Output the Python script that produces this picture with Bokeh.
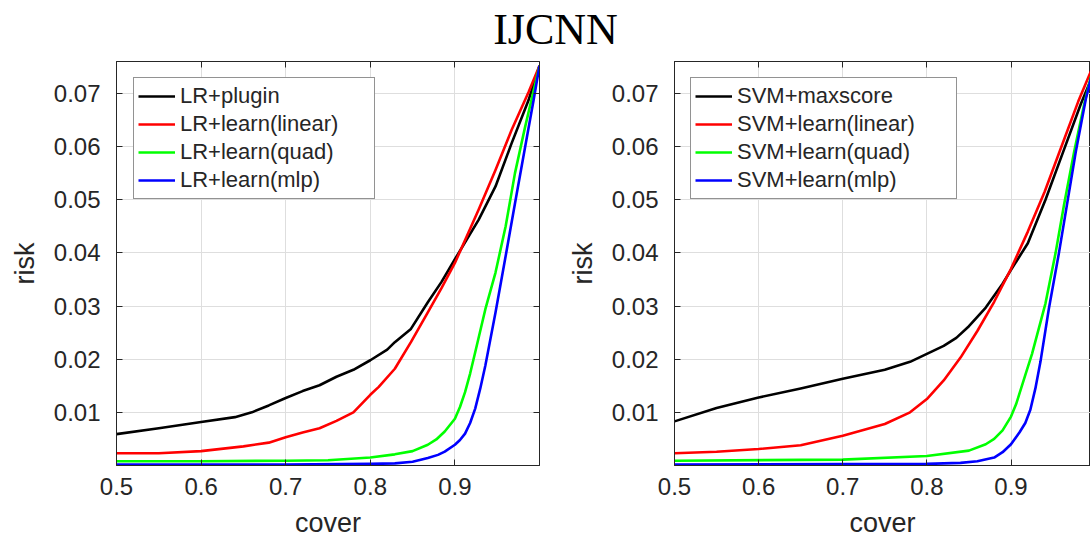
from bokeh.plotting import figure
from bokeh.layouts import column, row
from bokeh.models import (Label, Legend, LegendItem, LinearAxis, FixedTicker,
                          Range1d, PrintfTickFormatter, CustomJSTickFormatter)
from bokeh.embed import file_html
from bokeh.resources import INLINE

# ---------------- data ----------------
TITLE = "IJCNN"
X_TICKS = [0.5, 0.6, 0.7, 0.8, 0.9]
Y_TICKS = [0.01, 0.02, 0.03, 0.04, 0.05, 0.06, 0.07]
X_LABEL = "cover"
Y_LABEL = "risk"

left_labels = ["LR+plugin", "LR+learn(linear)", "LR+learn(quad)", "LR+learn(mlp)"]
right_labels = ["SVM+maxscore", "SVM+learn(linear)", "SVM+learn(quad)", "SVM+learn(mlp)"]
colors = ["#000000", "#ff0000", "#00ff00", "#0000ff"]

# left panel (LR)
lr_plugin_cover = [0.50, 0.55, 0.60, 0.64, 0.66, 0.68, 0.70, 0.72, 0.74, 0.76, 0.78, 0.80, 0.82, 0.829, 0.848, 0.868, 0.884, 0.90, 0.928, 0.948, 0.967, 0.987, 1.00]
lr_plugin_risk = [0.0059, 0.0070, 0.0082, 0.0091, 0.0100, 0.0113, 0.0127, 0.0140, 0.0151, 0.0167, 0.0180, 0.0198, 0.0218, 0.0232, 0.0257, 0.0307, 0.0345, 0.0388, 0.0462, 0.0525, 0.0606, 0.0687, 0.0752]

lr_linear_cover = [0.50, 0.55, 0.60, 0.65, 0.68, 0.70, 0.72, 0.74, 0.76, 0.78, 0.80, 0.81, 0.829, 0.848, 0.868, 0.884, 0.90, 0.928, 0.948, 0.967, 0.987, 1.00]
lr_linear_risk = [0.0023, 0.0023, 0.0027, 0.0036, 0.0043, 0.0053, 0.0062, 0.0070, 0.0084, 0.0100, 0.0133, 0.0148, 0.0182, 0.0232, 0.0288, 0.0333, 0.0381, 0.0481, 0.0556, 0.0631, 0.0702, 0.0752]

lr_quad_cover = [0.50, 0.60, 0.70, 0.75, 0.80, 0.829, 0.85, 0.868, 0.878, 0.888, 0.90, 0.906, 0.912, 0.918, 0.924, 0.936, 0.948, 0.96, 0.971, 0.983, 1.00]
lr_quad_risk = [0.0008, 0.0008, 0.0009, 0.0010, 0.0015, 0.0021, 0.0027, 0.0039, 0.0049, 0.0064, 0.0088, 0.0110, 0.0138, 0.0173, 0.0213, 0.0294, 0.0363, 0.0450, 0.0550, 0.0637, 0.0752]

lr_mlp_cover = [0.50, 0.70, 0.80, 0.829, 0.85, 0.868, 0.88, 0.888, 0.90, 0.906, 0.912, 0.918, 0.924, 0.93, 0.936, 0.948, 0.96, 0.971, 0.983, 0.993, 1.00]
lr_mlp_risk = [0.0002, 0.0002, 0.0003, 0.0004, 0.0007, 0.0014, 0.0020, 0.0026, 0.0039, 0.0048, 0.0060, 0.0080, 0.0107, 0.0145, 0.0188, 0.0288, 0.0394, 0.0493, 0.0599, 0.0687, 0.0752]

# right panel (SVM)
svm_max_cover = [0.50, 0.55, 0.60, 0.65, 0.70, 0.75, 0.78, 0.80, 0.82, 0.835, 0.85, 0.87, 0.89, 0.90, 0.92, 0.941, 0.962, 0.983, 0.9945, 1.00]
svm_max_risk = [0.0083, 0.0108, 0.0128, 0.0145, 0.0163, 0.0180, 0.0195, 0.0210, 0.0225, 0.0240, 0.0262, 0.0297, 0.0342, 0.0368, 0.0418, 0.0500, 0.0590, 0.0680, 0.0724, 0.0752]

svm_linear_cover = [0.50, 0.55, 0.60, 0.65, 0.70, 0.75, 0.78, 0.80, 0.82, 0.84, 0.86, 0.88, 0.90, 0.92, 0.94, 0.96, 0.98, 0.9945, 1.00]
svm_linear_risk = [0.0023, 0.0026, 0.0031, 0.0038, 0.0056, 0.0078, 0.0100, 0.0125, 0.0160, 0.0203, 0.0253, 0.0308, 0.0370, 0.0440, 0.0515, 0.0600, 0.0685, 0.0740, 0.0758]

svm_quad_cover = [0.50, 0.70, 0.80, 0.85, 0.87, 0.88, 0.89, 0.90, 0.906, 0.912, 0.918, 0.925, 0.941, 0.953, 0.963, 0.975, 0.987, 0.9945, 1.00]
svm_quad_risk = [0.0009, 0.0011, 0.0018, 0.0028, 0.0040, 0.0050, 0.0066, 0.0092, 0.0115, 0.0145, 0.0175, 0.0210, 0.0305, 0.0400, 0.0490, 0.0590, 0.0680, 0.0728, 0.0755]

svm_mlp_cover = [0.50, 0.80, 0.84, 0.86, 0.88, 0.89, 0.90, 0.91, 0.917, 0.923, 0.929, 0.935, 0.945, 0.957, 0.967, 0.977, 0.989, 0.9945, 1.00]
svm_mlp_risk = [0.0002, 0.0003, 0.0005, 0.0008, 0.0015, 0.0025, 0.0040, 0.0062, 0.0080, 0.0105, 0.0145, 0.0195, 0.0295, 0.0400, 0.0495, 0.0590, 0.0690, 0.0725, 0.0755]

left_series = [(lr_plugin_cover, lr_plugin_risk), (lr_linear_cover, lr_linear_risk),
               (lr_quad_cover, lr_quad_risk), (lr_mlp_cover, lr_mlp_risk)]
right_series = [(svm_max_cover, svm_max_risk), (svm_linear_cover, svm_linear_risk),
                (svm_quad_cover, svm_quad_risk), (svm_mlp_cover, svm_mlp_risk)]

# ---------------- style ----------------
FONT = "Liberation Sans"
DARK = "#262626"
GRID = "#dedede"


def make_panel(series, labels, x_end, width, border_left, border_right, legend_loc,
               label_width, add_right_axis):
    p = figure(width=width, height=485, x_range=Range1d(0.5, x_end),
               y_range=Range1d(0.0, 0.076), output_backend="svg",
               toolbar_location=None, min_border_left=border_left,
               min_border_right=border_right, min_border_top=6,
               min_border_bottom=73)
    p.outline_line_color = DARK
    p.outline_line_width = 1
    p.background_fill_color = "white"
    p.border_fill_color = "white"

    p.xaxis.ticker = FixedTicker(ticks=X_TICKS, minor_ticks=[])
    p.yaxis.ticker = FixedTicker(ticks=Y_TICKS, minor_ticks=[])
    p.xaxis.formatter = PrintfTickFormatter(format="%.1f")
    p.yaxis.formatter = PrintfTickFormatter(format="%.2f")
    p.xaxis.axis_label = X_LABEL
    p.yaxis.axis_label = Y_LABEL
    for ax in list(p.xaxis) + list(p.yaxis):
        ax.axis_line_color = DARK
        ax.major_tick_line_color = DARK
        ax.major_tick_in = 6
        ax.major_tick_out = 0
        ax.minor_tick_line_color = None
        ax.major_label_text_font = FONT
        ax.major_label_text_font_size = "24px"
        ax.major_label_text_color = DARK
        ax.axis_label_text_font = FONT
        ax.axis_label_text_font_size = "27px"
        ax.axis_label_text_font_style = "normal"
        ax.axis_label_text_color = DARK
    p.xaxis.major_label_standoff = 12
    p.yaxis.major_label_standoff = 16
    p.xaxis.axis_label_standoff = 10
    p.yaxis.axis_label_standoff = 11

    p.grid.grid_line_color = GRID
    p.grid.grid_line_width = 1

    top = LinearAxis(ticker=FixedTicker(ticks=X_TICKS, minor_ticks=[]),
                     formatter=CustomJSTickFormatter(code="return ''"),
                     major_tick_in=6, major_tick_out=0, major_label_standoff=0,
                     major_label_text_font_size="0px",
                     axis_line_color=DARK, major_tick_line_color=DARK,
                     minor_tick_line_color=None)
    p.add_layout(top, "above")
    if add_right_axis:
        rgt = LinearAxis(ticker=FixedTicker(ticks=Y_TICKS, minor_ticks=[]),
                         formatter=CustomJSTickFormatter(code="return ''"),
                         major_tick_in=6, major_tick_out=0, major_label_standoff=0,
                         major_label_text_font_size="0px",
                         axis_line_color=DARK, major_tick_line_color=DARK,
                         minor_tick_line_color=None)
        p.add_layout(rgt, "right")

    items = []
    for (cx, ry), lab, col in zip(series, labels, colors):
        r = p.line(cx, ry, line_color=col, line_width=2.6, line_join="round")
        items.append(LegendItem(label=lab, renderers=[r]))

    leg = Legend(items=items, location=legend_loc, padding=4, spacing=0, margin=0,
                 glyph_width=37, glyph_height=28, label_height=28,
                 label_width=label_width, label_standoff=5,
                 border_line_color=DARK, border_line_width=1,
                 background_fill_color="white", background_fill_alpha=1.0,
                 label_text_font=FONT, label_text_font_size="22px",
                 label_text_color=DARK)
    p.add_layout(leg)
    return p


left = make_panel(left_series, left_labels, 1.0, 564, 116, 25, (17, 266), 190, True)
right = make_panel(right_series, right_labels, 0.9945, 526, 108, 0, (16, 266), 215, False)

top = figure(width=1090, height=55, x_range=Range1d(0, 1090), y_range=Range1d(0, 55),
             x_axis_type=None, y_axis_type=None, toolbar_location=None,
             output_backend="svg", min_border=0)
top.outline_line_color = None
top.add_layout(Label(x=555, y=26, text=TITLE, text_align="center",
                     text_baseline="middle", text_font="Liberation Serif",
                     text_font_size="44px", text_color="black"))

layout = column(top, row(left, right, spacing=0), spacing=0)

with open("out.html", "w") as f:
    f.write(file_html(layout, INLINE))
